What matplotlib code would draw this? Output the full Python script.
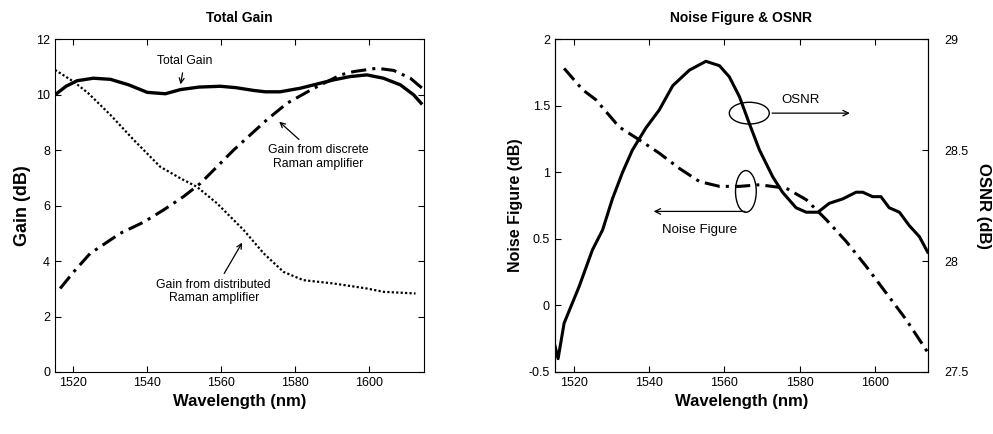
import matplotlib.pyplot as plt
from matplotlib.patches import Ellipse

plt.rcParams["font.family"] = ["Liberation Sans", "DejaVu Sans"]

# ---- Total Gain panel data ----
total_wl = [1515, 1518, 1521, 1525.4, 1530, 1535, 1540, 1544.9, 1549, 1554, 1559.8,
            1564, 1568.8, 1572, 1576, 1581.5, 1586, 1590.5, 1595, 1599.5, 1604,
            1608.6, 1612.2, 1614.2]
total_gain = [9.99, 10.3, 10.5, 10.59, 10.55, 10.35, 10.08, 10.03, 10.18, 10.27, 10.3,
              10.25, 10.15, 10.1, 10.1, 10.23, 10.38, 10.53, 10.65, 10.71, 10.59,
              10.35, 9.99, 9.69]

dist_wl = [1515, 1520, 1524, 1530, 1536.3, 1543.5, 1549, 1553.4, 1558.9, 1566.1,
           1571.6, 1576.9, 1582.3, 1590.5, 1599.5, 1604, 1612.7]
dist_gain = [10.89, 10.47, 10.05, 9.27, 8.37, 7.40, 6.98, 6.68, 6.08, 5.12,
             4.27, 3.61, 3.31, 3.19, 3.01, 2.89, 2.83]

disc_wl = [1516.4, 1520, 1524.5, 1532.7, 1539, 1544.4, 1549.8, 1554.4, 1563.4, 1572.4,
           1577.9, 1585.2, 1592.4, 1596, 1602.3, 1606.8, 1611.3, 1614.5]
disc_gain = [3.01, 3.6, 4.27, 5.0, 5.4, 5.84, 6.32, 6.8, 8.0, 9.09,
             9.69, 10.23, 10.71, 10.83, 10.95, 10.87, 10.59, 10.23]

# ---- Noise Figure & OSNR panel data ----
osnr_wl = [1514.9, 1515.9, 1517.5, 1521.5, 1525, 1527.7, 1530.3, 1533, 1535.6, 1539.2,
           1542.7, 1546.3, 1550.7, 1555.1, 1558.7, 1561.3, 1564, 1566.6, 1569.3, 1572.8,
           1575.4, 1579, 1581.7, 1584.8, 1587.8, 1591.4, 1594.9, 1596.7, 1599.3, 1601.5,
           1603.7, 1606.4, 1609, 1611.7, 1613.9]
osnr = [27.63, 27.56, 27.72, 27.886, 28.05, 28.14, 28.28, 28.40, 28.50, 28.60,
        28.68, 28.79, 28.86, 28.90, 28.88, 28.83, 28.74, 28.62, 28.50, 28.38,
        28.31, 28.24, 28.22, 28.22, 28.26, 28.28, 28.31, 28.31, 28.29, 28.29,
        28.24, 28.22, 28.16, 28.11, 28.04]

nf_wl = [1517.5, 1522.4, 1525.9, 1532.1, 1537.4, 1542.7, 1548, 1553.4, 1558.7, 1564,
         1569.3, 1576.4, 1581.7, 1587, 1592.3, 1597.6, 1602.9, 1608.2, 1613.9]
nf = [1.78, 1.62, 1.545, 1.34, 1.244, 1.144, 1.03, 0.93, 0.894, 0.894,
      0.906, 0.88, 0.794, 0.644, 0.48, 0.293, 0.093, -0.107, -0.352]

fig = plt.figure(figsize=(9.93, 4.34), dpi=100)
ax1 = fig.add_axes([0.0554, 0.1429, 0.3716, 0.767])
ax2 = fig.add_axes([0.5586, 0.1429, 0.376, 0.767])

# left panel
ax1.plot(total_wl, total_gain, color="black", lw=2.4)
ax1.plot(dist_wl, dist_gain, color="black", lw=1.6, linestyle=(0, (1, 1)))
ax1.plot(disc_wl, disc_gain, color="black", lw=2.2, linestyle=(0, (5, 2, 1, 2)))
ax1.set_xlim(1515, 1615)
ax1.set_ylim(0, 12)
ax1.set_xticks([1520, 1540, 1560, 1580, 1600])
ax1.set_yticks([0, 2, 4, 6, 8, 10, 12])
ax1.tick_params(direction="in", top=True, right=True, labelsize=9, length=4)
ax1.set_title("Total Gain", fontsize=10, fontweight="bold", pad=12)
ax1.set_xlabel("Wavelength (nm)", fontsize=12, fontweight="bold")
ax1.set_ylabel("Gain (dB)", fontsize=13, fontweight="bold")

arrow = dict(arrowstyle="->", color="black", lw=0.9)
ax1.annotate("Total Gain", xy=(1548.9, 10.27), xytext=(1550.1, 11.2),
             ha="center", va="center", fontsize=8.8, arrowprops=arrow)
ax1.annotate("Gain from discrete\nRaman amplifier", xy=(1575.2, 9.09), xytext=(1586.4, 7.75),
             ha="center", va="center", fontsize=8.8, arrowprops=arrow)
ax1.annotate("Gain from distributed\nRaman amplifier", xy=(1566.1, 4.75), xytext=(1558, 2.9),
             ha="center", va="center", fontsize=8.8, arrowprops=arrow)

# right panel
ax2.plot(nf_wl, nf, color="black", lw=2.2, linestyle=(0, (5, 2, 1, 2)))
ax2.set_xlim(1515, 1614)
ax2.set_ylim(-0.5, 2)
ax2.set_xticks([1520, 1540, 1560, 1580, 1600])
ax2.set_yticks([-0.5, 0, 0.5, 1, 1.5, 2])
ax2.set_yticklabels(["-0.5", "0", "0.5", "1", "1.5", "2"])
ax2.tick_params(direction="in", top=True, labelsize=9, length=4)
ax2.set_title("Noise Figure & OSNR", fontsize=10, fontweight="bold", pad=12)
ax2.set_xlabel("Wavelength (nm)", fontsize=12, fontweight="bold")
ax2.set_ylabel("Noise Figure (dB)", fontsize=11.5, fontweight="bold")

ax3 = ax2.twinx()
ax3.plot(osnr_wl, osnr, color="black", lw=2.2)
ax3.set_ylim(27.5, 29)
ax3.set_yticks([27.5, 28, 28.5, 29])
ax3.set_yticklabels(["27.5", "28", "28.5", "29"])
ax3.tick_params(direction="in", labelsize=9, length=4, pad=12)
ax3.set_ylabel("OSNR (dB)", fontsize=12, fontweight="bold", rotation=270,
               ha="center", va="center")
ax3.yaxis.set_label_coords(1.148, 0.5)

ax2.add_patch(Ellipse((1566.6, 1.444), 10.6, 0.163, fill=False, color="black", lw=1))
ax2.annotate("", xy=(1594, 1.444), xytext=(1571.9, 1.444), arrowprops=arrow)
ax2.text(1580.3, 1.545, "OSNR", ha="center", va="center", fontsize=9.5)
ax2.add_patch(Ellipse((1565.7, 0.856), 5.5, 0.313, fill=False, color="black", lw=1))
ax2.annotate("", xy=(1540.5, 0.706), xytext=(1566.2, 0.706), arrowprops=arrow)
ax2.text(1553.4, 0.569, "Noise Figure", ha="center", va="center", fontsize=9.5)

fig.savefig("out.png", dpi=100)
